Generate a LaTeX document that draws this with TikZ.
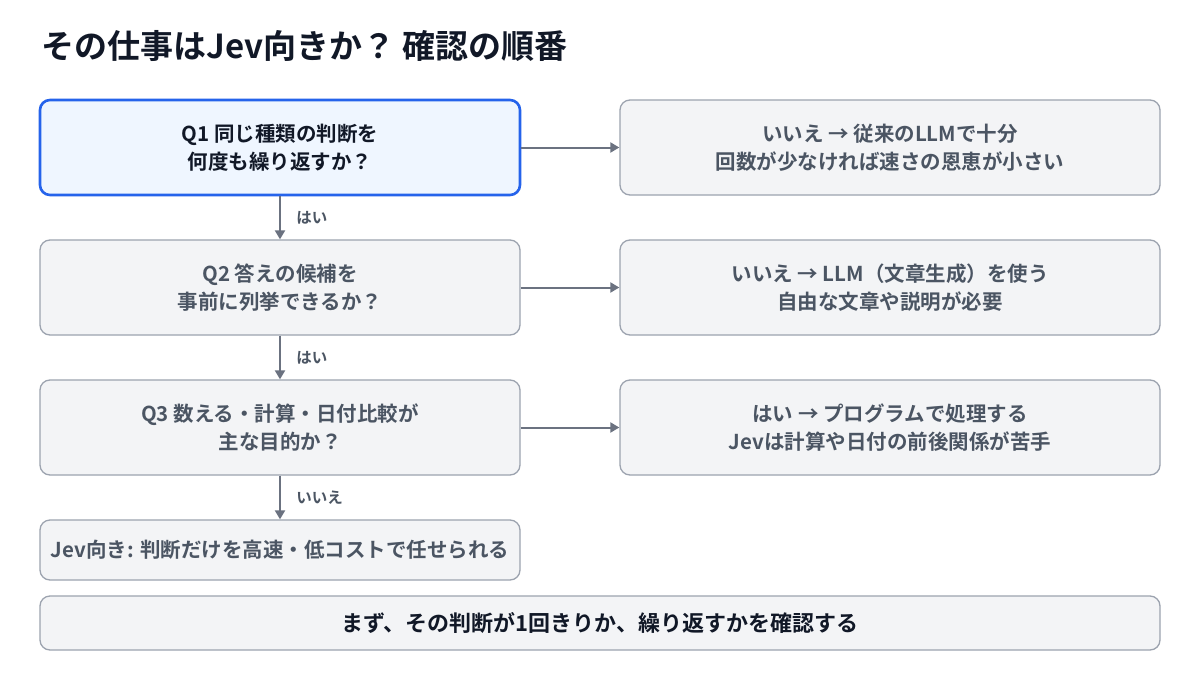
\documentclass[tikz,border=0pt]{standalone}
\usepackage{fontspec}
\setmainfont{Noto Sans CJK JP}[BoldFont={Noto Sans CJK JP Bold}]
\usetikzlibrary{arrows.meta}
\definecolor{bluebd}{HTML}{2563EB}
\definecolor{bluefill}{HTML}{EFF6FF}
\definecolor{graybd}{HTML}{9CA3AF}
\definecolor{grayfill}{HTML}{F3F4F6}
\definecolor{txtgray}{HTML}{4B5563}
\definecolor{txtdark}{HTML}{111827}
\definecolor{arr}{HTML}{6B7280}
\begin{document}
\begin{tikzpicture}[x=1pt,y=-1pt,
  box/.style={draw=graybd,line width=1.3pt,fill=grayfill,rounded corners=10pt,
    text=txtgray,font=\bfseries\fontsize{20.5}{28}\selectfont,align=center,inner sep=0pt},
  qbox/.style={box,draw=bluebd,line width=2.6pt,fill=bluefill,text=txtdark},
  con/.style={draw=arr,line width=2pt,-{Triangle[length=9pt,width=10pt]}},
  lab/.style={text=txtgray,font=\bfseries\fontsize{15.5}{18}\selectfont,anchor=west}]
\useasboundingbox[fill=white] (0,0) rectangle (1200,675);
\node[anchor=west,text=txtdark,font=\bfseries\fontsize{33}{38}\selectfont] (title) at (38,46) {その仕事はJev向きか？ 確認の順番};
\node[qbox,minimum width=480pt,minimum height=95pt] (q1) at (280,147.5) {Q1 同じ種類の判断を\\何度も繰り返すか？};
\node[box,minimum width=540pt,minimum height=95pt] (r1) at (890,147.5) {いいえ → 従来のLLMで十分\\回数が少なければ速さの恩恵が小さい};
\node[box,minimum width=480pt,minimum height=95pt] (q2) at (280,287.5) {Q2 答えの候補を\\事前に列挙できるか？};
\node[box,minimum width=540pt,minimum height=95pt] (r2) at (890,287.5) {いいえ → LLM（文章生成）を使う\\自由な文章や説明が必要};
\node[box,minimum width=480pt,minimum height=95pt] (q3) at (280,427.5) {Q3 数える・計算・日付比較が\\主な目的か？};
\node[box,minimum width=540pt,minimum height=95pt] (r3) at (890,427.5) {はい → プログラムで処理する\\Jevは計算や日付の前後関係が苦手};
\node[box,minimum width=480pt,minimum height=60pt] (f) at (280,550) {Jev向き: 判断だけを高速・低コストで任せられる};
\node[box,minimum width=1120pt,minimum height=54pt,text=txtdark,font=\bfseries\fontsize{22}{28}\selectfont] (b) at (600,623) {まず、その判断が1回きりか、繰り返すかを確認する};
\draw[con] (q1) -- (r1);
\draw[con] (q2) -- (r2);
\draw[con] (q3) -- (r3);
\draw[con] (q1) -- (q2) node[lab,midway,xshift=12pt] {はい};
\draw[con] (q2) -- (q3) node[lab,midway,xshift=12pt] {はい};
\draw[con] (q3) -- (f) node[lab,midway,xshift=12pt] {いいえ};
\end{tikzpicture}
\end{document}
